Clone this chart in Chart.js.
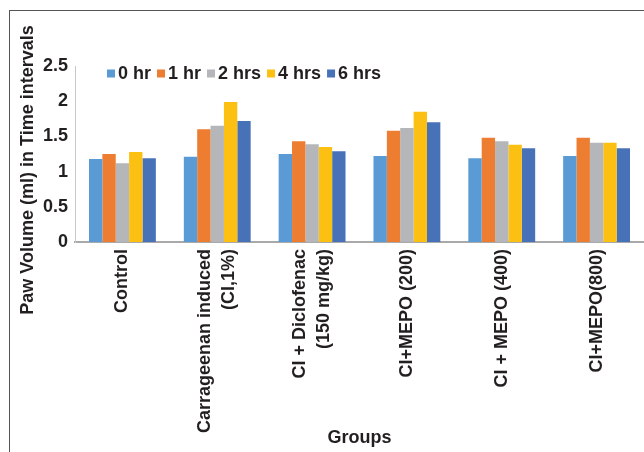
<!DOCTYPE html>
<html>
<head>
<meta charset="utf-8">
<script src="https://cdn.jsdelivr.net/npm/chart.js@4.4.0/dist/chart.umd.min.js"></script>
<style>
  html, body { margin: 0; padding: 0; background: #fff; overflow: hidden; }
  #wrap { position: relative; width: 644px; height: 452px; }
  #frame { position: absolute; left: 9px; top: 10px; width: 700px; height: 500px;
           border-left: 1px solid #555; border-top: 1px solid #555; }
</style>
</head>
<body>
<div id="wrap">
  <div id="frame"></div>
  <canvas id="myChart"></canvas>
</div>
<script>
// groups on the x axis
var groups = [
  'Control',
  ['Carrageenan induced', '(CI,1%)'],
  ['CI + Diclofenac', '(150 mg/kg)'],
  'CI+MEPO (200)',
  'CI + MEPO (400)',
  'CI+MEPO(800)'
];

// paw volume (ml) at each time interval
var hr0 = [1.18, 1.21, 1.25, 1.22, 1.19, 1.22];
var hr1 = [1.25, 1.60, 1.43, 1.58, 1.48, 1.48];
var hr2 = [1.12, 1.65, 1.39, 1.62, 1.43, 1.41];
var hr4 = [1.28, 1.99, 1.35, 1.85, 1.38, 1.41];
var hr6 = [1.19, 1.72, 1.29, 1.70, 1.33, 1.33];

var seriesNames = ['0 hr', '1 hr', '2 hrs', '4 hrs', '6 hrs'];
var yTicks = [0, 0.5, 1, 1.5, 2, 2.5];
var yTitle = 'Paw Volume (ml) in Time intervals';

var colors = ['#5B9BD5', '#ED7D31', '#B5B6B9', '#FCC012', '#4872B8'];
var textColor = '#231f20';
var fontFam = '"Liberation Sans", Arial, sans-serif';

// compact legend inside the plot area (Excel style: small gap between box and text)
var insideLegend = {
  id: 'insideLegend',
  afterDraw: function(chart) {
    var ca = chart.chartArea, ctx = chart.ctx;
    var x = ca.left + 32, y = ca.top + 7.5;
    ctx.save();
    ctx.font = 'bold 18px ' + fontFam;
    ctx.textBaseline = 'middle';
    ctx.textAlign = 'left';
    chart.data.datasets.forEach(function(ds) {
      ctx.fillStyle = ds.backgroundColor;
      ctx.fillRect(x, y - 4, 8, 8);
      x += 11;
      ctx.fillStyle = textColor;
      ctx.fillText(ds.label, x, y + 1);
      x += ctx.measureText(ds.label).width + 6;
    });
    ctx.restore();
  }
};

// centre the two-line category labels on their tick
var centerLabels = {
  id: 'centerLabels',
  beforeDraw: function(chart) {
    chart.scales.x.getLabelItems().forEach(function(it) {
      if (Array.isArray(it.label) && !it._centered) {
        it.textOffset -= (it.label.length - 1) * it.font.lineHeight / 2;
        it._centered = true;
      }
    });
  }
};

// y axis title, drawn a little lower than the plot centre like the original
var yTitlePlugin = {
  id: 'yTitle',
  afterDraw: function(chart) {
    var ca = chart.chartArea, ctx = chart.ctx;
    ctx.save();
    ctx.translate(28, (ca.top + ca.bottom) / 2 + 16);
    ctx.rotate(-Math.PI / 2);
    ctx.font = 'bold 18px ' + fontFam;
    ctx.fillStyle = textColor;
    ctx.textAlign = 'center';
    ctx.textBaseline = 'middle';
    ctx.fillText(yTitle, 0, 0);
    ctx.restore();
  }
};

var allData = [hr0, hr1, hr2, hr4, hr6];

var ctx = document.getElementById('myChart').getContext('2d');
var myChart = new Chart(ctx, {
  type: 'bar',
  data: {
    labels: groups,
    datasets: seriesNames.map(function(name, i) {
      return {
        label: name,
        data: allData[i],
        backgroundColor: colors[i],
        borderWidth: 0,
        categoryPercentage: 0.705,
        barPercentage: 1
      };
    })
  },
  options: {
    responsive: true,
    maintainAspectRatio: false,
    animation: false,
    layout: { padding: { top: 66, right: 0, bottom: 0, left: 0 } },
    plugins: {
      legend: { display: false },
      tooltip: { enabled: false }
    },
    scales: {
      x: {
        grid: { display: false, drawTicks: false },
        border: { display: true, color: '#a9a9a9', width: 2 },
        ticks: {
          autoSkip: false,
          minRotation: 90,
          maxRotation: 90,
          padding: 7,
          color: textColor,
          font: { family: fontFam, size: 18, weight: 'bold', lineHeight: 1.35 }
        },
        title: {
          display: true,
          text: 'Groups',
          color: textColor,
          padding: { top: 0, bottom: 3 },
          font: { family: fontFam, size: 18, weight: 'bold' }
        },
        afterFit: function(s) { s.height = 210; }
      },
      y: {
        min: yTicks[0],
        max: yTicks[yTicks.length - 1],
        grid: { display: false, drawTicks: false },
        border: { display: true, color: '#c8c8c8', width: 1 },
        ticks: {
          stepSize: yTicks[1] - yTicks[0],
          padding: 7,
          color: textColor,
          font: { family: fontFam, size: 18, weight: 'bold' },
          callback: function(v) { return String(v); }
        },
        afterFit: function(s) { s.width = 75; }
      }
    }
  },
  plugins: [centerLabels, insideLegend, yTitlePlugin]
});
</script>
</body>
</html>
